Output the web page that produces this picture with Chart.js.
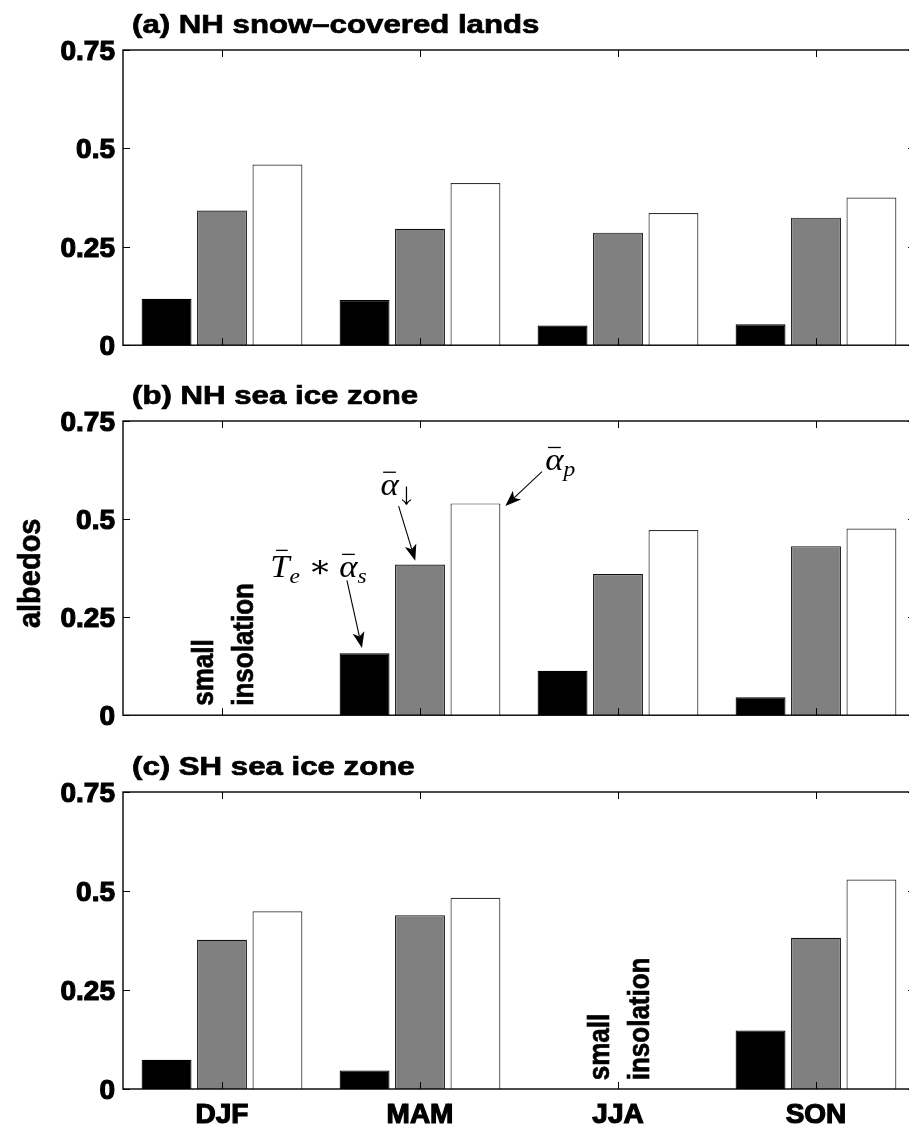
<!DOCTYPE html>
<html><head><meta charset="utf-8">
<script src="https://cdn.jsdelivr.net/npm/chart.js@4"></script>
<style>
html,body{margin:0;padding:0;background:#fff;overflow:hidden;width:909px;height:1127px}
#wrap{position:relative;width:909px;height:1127px;overflow:hidden;background:#fff}
canvas{position:absolute;left:0}
</style></head><body>
<div id="wrap">
<canvas id="ca" width="920" height="370" style="top:0px"></canvas>
<canvas id="cb" width="920" height="370" style="top:370px"></canvas>
<canvas id="cc" width="920" height="387" style="top:740px"></canvas>
</div>
<script>
// ---- data ----
const categories = ['DJF', 'MAM', 'JJA', 'SON'];
const yTickValues = [0, 0.25, 0.5, 0.75];
const yTickLabels = ['0', '0.25', '0.5', '0.75'];
const panelTitles = ['(a) NH snow\u2013covered lands', '(b) NH sea ice zone', '(c) SH sea ice zone'];
const yAxisLabel = 'albedos';
const noteWords = ['small', 'insolation'];

// (a) NH snow-covered lands
const aTeAlphaS = [0.118, 0.115, 0.050, 0.053];
const aAlphaDown = [0.342, 0.296, 0.286, 0.324];
const aAlphaP = [0.459, 0.412, 0.336, 0.375];
// (b) NH sea ice zone
const bTeAlphaS = [null, 0.158, 0.113, 0.046];
const bAlphaDown = [null, 0.384, 0.360, 0.431];
const bAlphaP = [null, 0.540, 0.472, 0.476];
// (c) SH sea ice zone
const cTeAlphaS = [0.074, 0.047, null, 0.148];
const cAlphaDown = [0.377, 0.439, null, 0.382];
const cAlphaP = [0.449, 0.483, null, 0.529];

// ---- styles ----
const SANS = '"Liberation Sans", Arial, Helvetica, sans-serif';
const SERIF = '"Liberation Serif", "DejaVu Serif", serif';
const SX = 1.2; // horizontal text widening seen in the reference

function stretchedText(ctx, txt, x, y, font, sx, align) {
  ctx.save();
  ctx.font = font;
  ctx.textBaseline = 'alphabetic';
  ctx.textAlign = 'left';
  const w = ctx.measureText(txt).width * sx;
  let x0 = x;
  if (align === 'center') x0 = x - w / 2;
  if (align === 'right') x0 = x - w;
  ctx.translate(x0, y);
  ctx.scale(sx, 1);
  ctx.fillText(txt, 0, 0);
  ctx.lineWidth = 0.7; ctx.strokeStyle = '#000';
  ctx.strokeText(txt, 0, 0);
  ctx.restore();
}

function verticalText(ctx, txt, x, y, font, sx) {
  // baseline at x, text starts at y and reads upward
  ctx.save();
  ctx.translate(x, y);
  ctx.scale(sx, 1);
  ctx.rotate(-Math.PI / 2);
  ctx.font = font;
  ctx.textAlign = 'left';
  ctx.textBaseline = 'alphabetic';
  ctx.fillText(txt, 0, 0);
  ctx.lineWidth = 0.6; ctx.strokeStyle = '#000';
  ctx.strokeText(txt, 0, 0);
  ctx.restore();
}

function drawArrow(ctx, x1, y1, x2, y2) {
  const ang = Math.atan2(y2 - y1, x2 - x1);
  const L = 16, W = 6, back = 4;
  const bx = x2 - Math.cos(ang) * (L - back), by = y2 - Math.sin(ang) * (L - back);
  ctx.save();
  ctx.strokeStyle = '#000'; ctx.fillStyle = '#000'; ctx.lineWidth = 1.1;
  ctx.beginPath(); ctx.moveTo(x1, y1); ctx.lineTo(bx, by); ctx.stroke();
  const px = -Math.sin(ang), py = Math.cos(ang);
  const hx = x2 - Math.cos(ang) * L, hy = y2 - Math.sin(ang) * L;
  ctx.beginPath();
  ctx.moveTo(x2, y2);
  ctx.lineTo(hx + px * W, hy + py * W);
  ctx.lineTo(bx, by);
  ctx.lineTo(hx - px * W, hy - py * W);
  ctx.closePath(); ctx.fill();
  ctx.restore();
}

// math label: list of parts
function drawMath(ctx, parts, x, y, sx) {
  ctx.save();
  ctx.translate(x, y);
  ctx.scale(sx, 1);
  ctx.fillStyle = '#000';
  ctx.textBaseline = 'alphabetic';
  ctx.textAlign = 'left';
  let cx = 0;
  for (const p of parts) {
    if (p.gap) { cx += p.gap; continue; }
    if (p.downArrow) {
      const ax = cx + 5, top = -8, bot = 10;
      ctx.save(); ctx.lineWidth = 1.1; ctx.strokeStyle = '#000';
      ctx.beginPath(); ctx.moveTo(ax, top); ctx.lineTo(ax, bot);
      ctx.moveTo(ax - 4, bot - 5); ctx.quadraticCurveTo(ax - 1, bot - 3, ax, bot);
      ctx.moveTo(ax + 4, bot - 5); ctx.quadraticCurveTo(ax + 1, bot - 3, ax, bot);
      ctx.stroke(); ctx.restore();
      cx += 12; continue;
    }
    const size = p.sub ? 21 : 31;
    ctx.font = (p.upright ? '' : 'italic ') + size + 'px ' + SERIF;
    const w = ctx.measureText(p.t).width;
    const dy = p.sub ? 6 : 0;
    ctx.fillText(p.t, cx, dy);
    if (p.bar) {
      ctx.fillRect(cx + w * (p.barL || 0.2), -(p.barH || 25), w * (p.barW || 0.6), 1.3);
    }
    cx += w;
  }
  ctx.restore();
}

// annotations (data coordinates: x = category index, y = albedo value)
const notesB = {
  vertical: [{ word: 0, x: -0.046, y: 0.024 }, { word: 1, x: 0.158, y: 0.024 }],
  math: [
    { parts: [{ t: 'T', bar: true, barL: 0.3, barW: 0.6, barH: 27 }, { t: 'e', sub: true }, { gap: 7 }, { t: '\u2217', upright: true }, { gap: 7 }, { t: '\u03B1', bar: true, barL: 0.15, barW: 0.7, barH: 23 }, { t: 's', sub: true }], x: 0.244, y: 0.353 },
    { parts: [{ t: '\u03B1', bar: true, barL: 0.15, barW: 0.7, barH: 23 }, { gap: 2 }, { downArrow: true }], x: 0.80, y: 0.5624 },
    { parts: [{ t: '\u03B1', bar: true, barL: 0.15, barW: 0.7, barH: 23 }, { t: 'p', sub: true }], x: 1.633, y: 0.6255 }
  ],
  arrows: [
    { x1: 0.631, y1: 0.344, x2: 0.707, y2: 0.171 },
    { x1: 0.892, y1: 0.533, x2: 0.976, y2: 0.394 },
    { x1: 1.616, y1: 0.621, x2: 1.431, y2: 0.533 }
  ],
  yLabel: true
};
const notesC = {
  vertical: [{ word: 0, x: 1.954, y: 0.022 }, { word: 1, x: 2.158, y: 0.022 }],
  math: [], arrows: [], yLabel: false
};

const framePlugin = {
  id: 'frame',
  afterDraw(chart) {
    const { ctx, chartArea: a, scales: { x, y } } = chart;
    const o = chart.options.plugins.frame;
    ctx.save();
    ctx.strokeStyle = '#000';
    ctx.lineWidth = 1.4;
    ctx.strokeRect(a.left, a.top, a.right - a.left, a.bottom - a.top);
    ctx.lineWidth = 1;
    const tl = 7;
    ctx.beginPath();
    yTickValues.forEach(v => {
      const py = Math.round(y.getPixelForValue(v)) + 0.5;
      ctx.moveTo(a.left, py); ctx.lineTo(a.left + tl, py);
      ctx.moveTo(a.right, py); ctx.lineTo(a.right - tl, py);
    });
    categories.forEach((c, i) => {
      const px = Math.round(x.getPixelForValue(i)) + 0.5;
      ctx.moveTo(px, a.top); ctx.lineTo(px, a.top + tl);
      ctx.moveTo(px, a.bottom); ctx.lineTo(px, a.bottom - tl);
    });
    ctx.stroke();
    ctx.fillStyle = '#000';
    // panel title
    stretchedText(ctx, o.title, a.left + 9, a.top - 17, 'bold 26px ' + SANS, SX, 'left');
    const n = o.notes;
    if (n) {
      const cw = x.getPixelForValue(1) - x.getPixelForValue(0);
      const X = v => x.getPixelForValue(0) + v * cw;
      const Y = v => y.getPixelForValue(v);
      n.vertical.forEach(t => verticalText(ctx, noteWords[t.word], X(t.x), Y(t.y), 'bold 26px ' + SANS, 1.1));
      n.math.forEach(m => drawMath(ctx, m.parts, X(m.x), Y(m.y), 1.12));
      n.arrows.forEach(r => drawArrow(ctx, X(r.x1), Y(r.y1), X(r.x2), Y(r.y2)));
      if (n.yLabel) {
        verticalText(ctx, yAxisLabel, 40, (a.top + a.bottom) / 2 + 60, 'bold 29px ' + SANS, 1.05);
      }
    }
    ctx.restore();
  }
};

function makeChart(id, series, title, showX, padTop, padBottom, notes) {
  const ds = [
    { label: 'Te*alpha_s', data: series[0], backgroundColor: '#000000', borderColor: '#000000' },
    { label: 'alpha_down', data: series[1], backgroundColor: '#808080', borderColor: '#111111' },
    { label: 'alpha_p', data: series[2], backgroundColor: '#ffffff', borderColor: '#333333' }
  ].map(d => Object.assign(d, { borderWidth: 1.2, borderSkipped: 'bottom', categoryPercentage: 0.84, barPercentage: 0.9 }));
  return new Chart(document.getElementById(id), {
    type: 'bar',
    data: { labels: categories, datasets: ds },
    options: {
      responsive: false,
      animation: false,
      devicePixelRatio: 1,
      layout: { padding: { top: padTop, bottom: padBottom, left: 0, right: 5 } },
      plugins: { legend: { display: false }, tooltip: { enabled: false }, frame: { title: title, notes: notes } },
      scales: {
        x: {
          grid: { display: false, drawTicks: false }, border: { display: false },
          ticks: { display: showX, color: '#000', padding: 9, textStrokeColor: '#000', textStrokeWidth: 1.2, font: { family: SANS, weight: 'bold', size: 28 } },
          afterFit: s => { s.height = showX ? 38 : 0; }
        },
        y: {
          min: 0, max: 0.75,
          grid: { display: false, drawTicks: false }, border: { display: false },
          ticks: {
            stepSize: 0.25, autoSkip: false, color: '#000', padding: 8, labelOffset: 2,
            textStrokeColor: '#000', textStrokeWidth: 1.2,
            font: { family: SANS, weight: 'bold', size: 28 },
            callback: v => { const i = yTickValues.findIndex(t => Math.abs(t - v) < 1e-9); return i >= 0 ? yTickLabels[i] : ''; }
          },
          afterFit: s => { s.width = 123; }
        }
      }
    },
    plugins: [framePlugin]
  });
}

makeChart('ca', [aTeAlphaS, aAlphaDown, aAlphaP], panelTitles[0], false, 50, 23, null);
makeChart('cb', [bTeAlphaS, bAlphaDown, bAlphaP], panelTitles[1], false, 51, 22, notesB);
makeChart('cc', [cTeAlphaS, cAlphaDown, cAlphaP], panelTitles[2], true, 52, 0, notesC);
</script>
</body></html>
